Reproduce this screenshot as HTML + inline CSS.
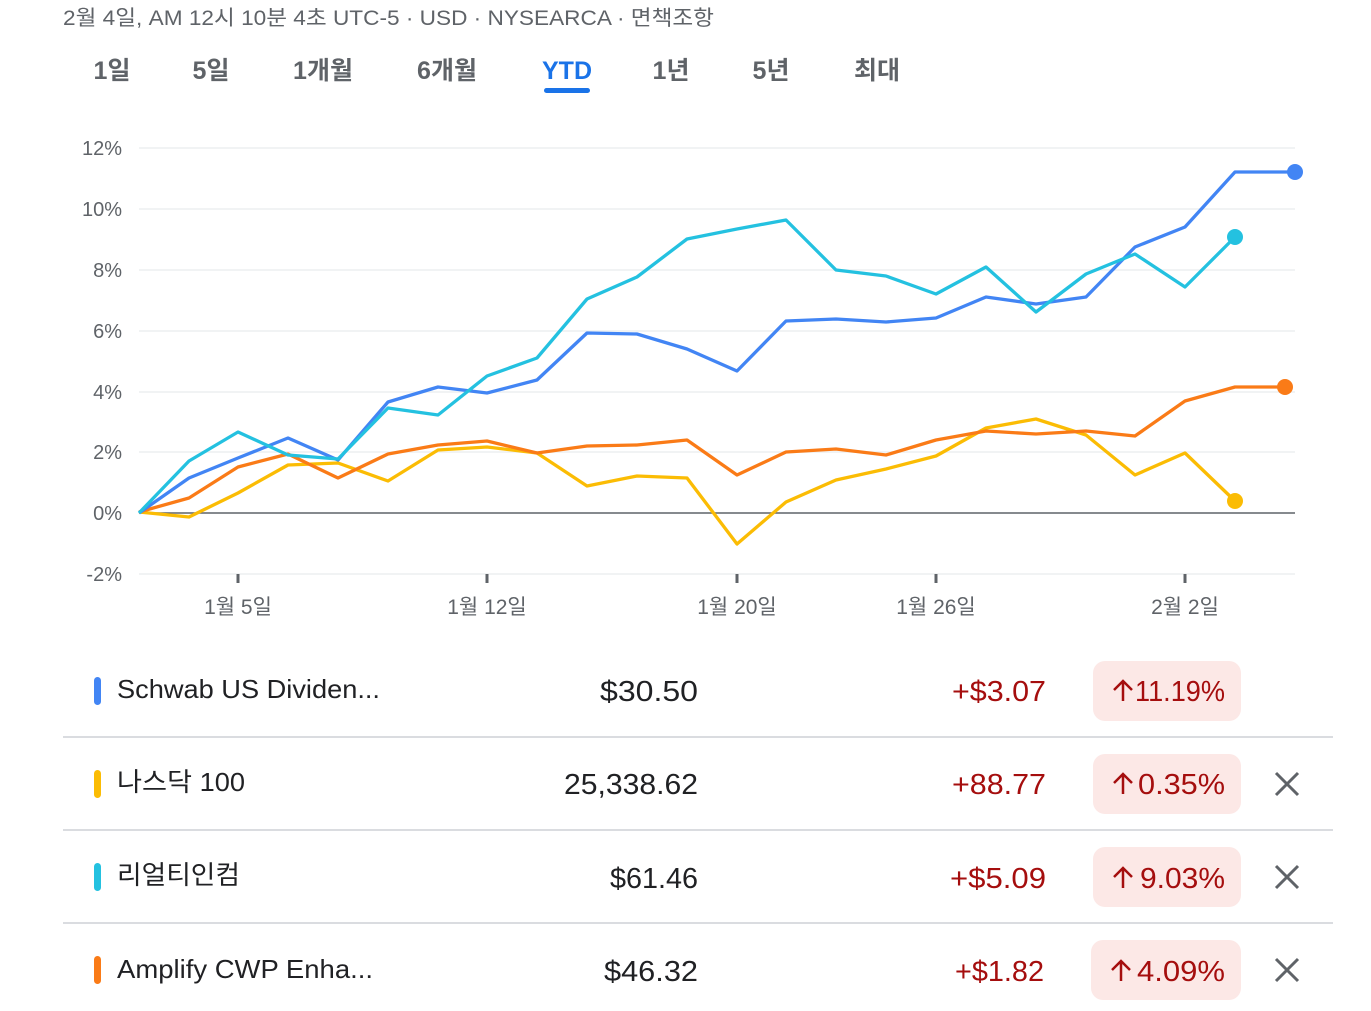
<!DOCTYPE html>
<html><head><meta charset="utf-8"><style>
html,body{margin:0;padding:0;background:#fff;}
svg{display:block;font-family:"Liberation Sans","Noto Sans CJK KR",sans-serif;}
</style></head><body>
<svg width="1371" height="1011" viewBox="0 0 1371 1011" xmlns="http://www.w3.org/2000/svg">
<text x="63" y="25" font-size="21" fill="#5f6368" textLength="651" lengthAdjust="spacingAndGlyphs">2월 4일, AM 12시 10분 4초 UTC-5 · USD · NYSEARCA · 면책조항</text>
<g font-size="25" fill="#5f6368" font-weight="bold" text-anchor="middle">
<text x="112" y="79">1일</text>
<text x="211" y="79">5일</text>
<text x="323" y="79">1개월</text>
<text x="447" y="79">6개월</text>
<text x="567" y="79" fill="#1a73e8">YTD</text>
<text x="671" y="79">1년</text>
<text x="771" y="79">5년</text>
<text x="877" y="79">최대</text>
</g>
<rect x="544" y="88" width="46" height="5" rx="2.5" fill="#1a73e8"/>
<g stroke="#f1f3f4" stroke-width="2">
<line x1="139" y1="148" x2="1295" y2="148"/><line x1="139" y1="209" x2="1295" y2="209"/>
<line x1="139" y1="270" x2="1295" y2="270"/><line x1="139" y1="331" x2="1295" y2="331"/>
<line x1="139" y1="392" x2="1295" y2="392"/><line x1="139" y1="452" x2="1295" y2="452"/>
<line x1="139" y1="574" x2="1295" y2="574"/>
</g>
<line x1="139" y1="513" x2="1295" y2="513" stroke="#5f6368" stroke-width="1.5"/>
<g font-size="20" fill="#5f6368" text-anchor="end">
<text x="122" y="155">12%</text><text x="122" y="216">10%</text><text x="122" y="277">8%</text>
<text x="122" y="338">6%</text><text x="122" y="399">4%</text><text x="122" y="459">2%</text>
<text x="122" y="520">0%</text><text x="122" y="581">-2%</text>
</g>
<g stroke="#5f6368" stroke-width="3">
<line x1="238" y1="574" x2="238" y2="583"/><line x1="487" y1="574" x2="487" y2="583"/>
<line x1="737" y1="574" x2="737" y2="583"/><line x1="936" y1="574" x2="936" y2="583"/>
<line x1="1185" y1="574" x2="1185" y2="583"/>
</g>
<g font-size="21" fill="#5f6368" text-anchor="middle">
<text x="238" y="614">1월 5일</text><text x="487" y="614">1월 12일</text><text x="737" y="614">1월 20일</text>
<text x="936" y="614">1월 26일</text><text x="1185" y="614">2월 2일</text>
</g>
<g fill="none" stroke-width="3.3" stroke-linejoin="round">
<polyline stroke="#fbbc04" points="139,512 189,517 238,493 288,465 338,463 388,481 438,450 487,447 537,453 587,486 637,476 687,478 737,544 786,502 836,480 886,469 936,456 986,428 1036,419 1086,435 1135,475 1185,453 1235,501"/>
<polyline stroke="#fa7b17" points="139,512 189,498 238,467 288,454 338,478 388,454 438,445 487,441 537,453 587,446 637,445 687,440 737,475 786,452 836,449 886,455 936,440 986,431 1036,434 1086,431 1135,436 1185,401 1235,387 1285,387"/>
<polyline stroke="#4285f4" points="139,513 189,478 238,458 288,438 338,460 388,402 438,387 487,393 537,380 587,333 637,334 687,349 737,371 786,321 836,319 886,322 936,318 986,297 1036,304 1086,297 1135,247 1185,227 1235,172 1295,172"/>
<polyline stroke="#24c1e0" points="139,513 189,461 238,432 288,455 338,459 388,408 438,415 487,376 537,358 587,299 637,277 687,239 737,229 786,220 836,270 886,276 936,294 986,267 1036,312 1086,274 1135,254 1185,287 1235,237"/>
</g>
<circle cx="1295" cy="172" r="8" fill="#4285f4"/>
<circle cx="1235" cy="237" r="8" fill="#24c1e0"/>
<circle cx="1285" cy="387" r="8" fill="#fa7b17"/>
<circle cx="1235" cy="501" r="8" fill="#fbbc04"/>
<g stroke="#dadce0" stroke-width="2">
<line x1="63" y1="737" x2="1333" y2="737"/><line x1="63" y1="830" x2="1333" y2="830"/><line x1="63" y1="923" x2="1333" y2="923"/>
</g>
<rect x="94" y="677" width="7" height="28" rx="3.5" fill="#4285f4"/>
<rect x="94" y="770" width="7" height="28" rx="3.5" fill="#fbbc04"/>
<rect x="94" y="863" width="7" height="28" rx="3.5" fill="#24c1e0"/>
<rect x="94" y="956" width="7" height="28" rx="3.5" fill="#fa7b17"/>
<g font-size="26" fill="#202124" lengthAdjust="spacingAndGlyphs">
<text x="117" y="698" textLength="263" lengthAdjust="spacingAndGlyphs">Schwab US Dividen...</text>
<text x="117" y="791" textLength="128" lengthAdjust="spacingAndGlyphs">나스닥 100</text>
<text x="117" y="884" textLength="123" lengthAdjust="spacingAndGlyphs">리얼티인컴</text>
<text x="117" y="978" textLength="256" lengthAdjust="spacingAndGlyphs">Amplify CWP Enha...</text>
</g>
<g font-size="29" fill="#202124">
<text x="600" y="701" textLength="98" lengthAdjust="spacingAndGlyphs">$30.50</text>
<text x="564" y="794" textLength="134" lengthAdjust="spacingAndGlyphs">25,338.62</text>
<text x="610" y="888" textLength="88" lengthAdjust="spacingAndGlyphs">$61.46</text>
<text x="604" y="981" textLength="94" lengthAdjust="spacingAndGlyphs">$46.32</text>
</g>
<g font-size="29" fill="#a50e0e">
<text x="952" y="701" textLength="94" lengthAdjust="spacingAndGlyphs">+$3.07</text>
<text x="952" y="794" textLength="94" lengthAdjust="spacingAndGlyphs">+88.77</text>
<text x="950" y="888" textLength="96" lengthAdjust="spacingAndGlyphs">+$5.09</text>
<text x="955" y="981" textLength="89" lengthAdjust="spacingAndGlyphs">+$1.82</text>
</g>
<g fill="#fce8e6">
<rect x="1093" y="661" width="148" height="60" rx="12"/><rect x="1093" y="754" width="148" height="60" rx="12"/>
<rect x="1093" y="847" width="148" height="60" rx="12"/><rect x="1091" y="940" width="150" height="60" rx="12"/>
</g>
<g fill="none" stroke="#a50e0e" stroke-width="2.5">
<path d="M1123 701 V681 M1114 690 L1123 681 L1132 690"/>
<path d="M1123 794 V774 M1114 783 L1123 774 L1132 783"/>
<path d="M1123 888 V868 M1114 877 L1123 868 L1132 877"/>
<path d="M1121 981 V961 M1112 970 L1121 961 L1130 970"/>
</g>
<g font-size="29" fill="#a50e0e">
<text x="1135" y="701" textLength="90" lengthAdjust="spacingAndGlyphs">11.19%</text>
<text x="1138" y="794" textLength="87" lengthAdjust="spacingAndGlyphs">0.35%</text>
<text x="1140" y="888" textLength="85" lengthAdjust="spacingAndGlyphs">9.03%</text>
<text x="1137" y="981" textLength="88" lengthAdjust="spacingAndGlyphs">4.09%</text>
</g>
<g stroke="#5f6368" stroke-width="3">
<path d="M1276 773 L1298 795 M1298 773 L1276 795"/>
<path d="M1276 866 L1298 888 M1298 866 L1276 888"/>
<path d="M1276 959 L1298 981 M1298 959 L1276 981"/>
</g>
</svg>
</body></html>
